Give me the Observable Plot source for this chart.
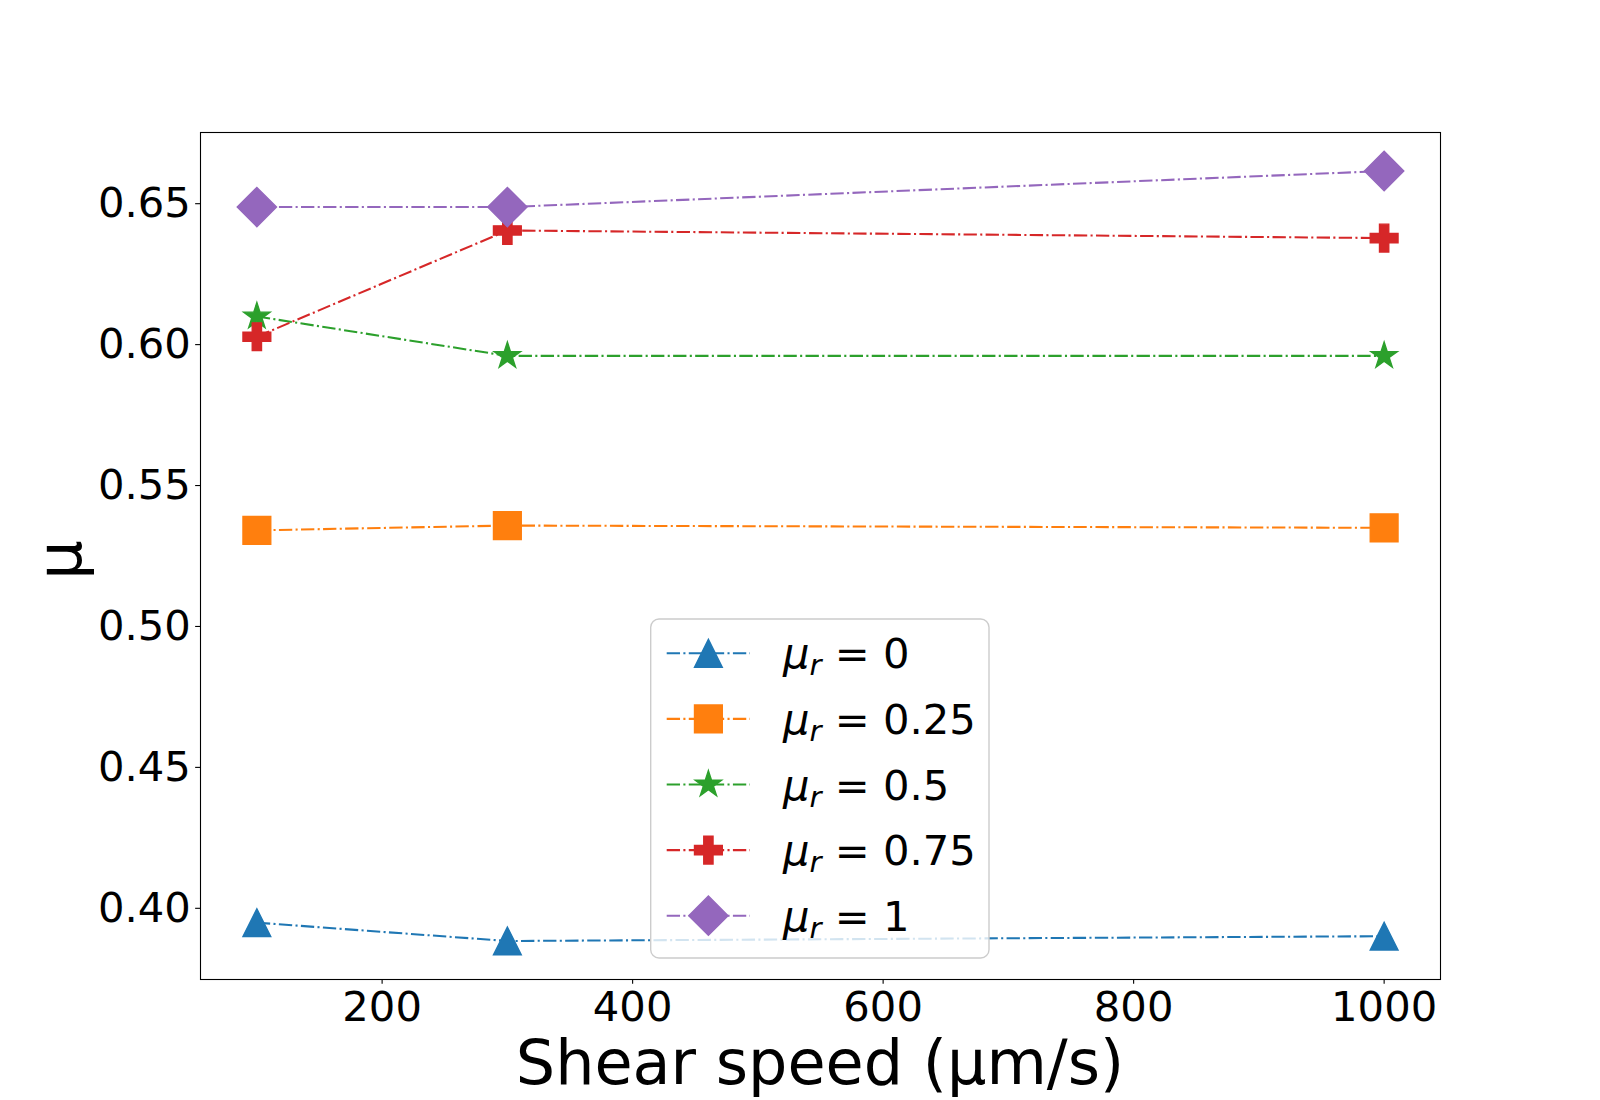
<!DOCTYPE html>
<html><head><meta charset="utf-8">
<script src="https://cdn.jsdelivr.net/npm/d3@7"></script>
<script src="https://cdn.jsdelivr.net/npm/@observablehq/plot@0.6"></script>
<style>body{margin:0;background:#fff}#chart{width:1600px;height:1100px}</style>
</head><body><div id="chart"></div>
<script>
// ---- data ----
const speeds = [100, 300, 1000];
const seriesLabels = ["0", "0.25", "0.5", "0.75", "1"];
const mu_r0   = [0.3949, 0.3884, 0.3901];
const mu_r025 = [0.5341, 0.5358, 0.5350];
const mu_r05  = [0.6100, 0.5960, 0.5960];
const mu_r075 = [0.6028, 0.6405, 0.6378];
const mu_r1   = [0.6488, 0.6488, 0.6616];
const xTicks = [200, 400, 600, 800, 1000];
const yTicks = [0.40, 0.45, 0.50, 0.55, 0.60, 0.65];
const colors = ["#1f77b4", "#ff7f0e", "#2ca02c", "#d62728", "#9467bd"];

const seriesValues = [mu_r0, mu_r025, mu_r05, mu_r075, mu_r1];

// ---- matplotlib-like marker symbols (size = pi r^2, r = ms/2) ----
const half = s => Math.sqrt(s / Math.PI);
const symTriangle = {draw(c, s){const h=half(s); c.moveTo(0,-h); c.lineTo(h,h); c.lineTo(-h,h); c.closePath();}};
const symSquare = {draw(c, s){const h=half(s); c.moveTo(-h,-h); c.lineTo(h,-h); c.lineTo(h,h); c.lineTo(-h,h); c.closePath();}};
const symStar = {draw(c, s){const R=half(s), r=R*0.381966;
  for(let i=0;i<10;i++){const a=-Math.PI/2+i*Math.PI/5, rr=i%2?r:R; const x=rr*Math.cos(a), y=rr*Math.sin(a); i?c.lineTo(x,y):c.moveTo(x,y);} c.closePath();}};
const symPlus = {draw(c, s){const h=half(s), u=h/3;
  const v=[[-1,-3],[1,-3],[1,-1],[3,-1],[3,1],[1,1],[1,3],[-1,3],[-1,1],[-3,1],[-3,-1],[-1,-1]];
  v.forEach(([x,y],i)=>i?c.lineTo(x*u,y*u):c.moveTo(x*u,y*u)); c.closePath();}};
const symDiamond = {draw(c, s){const d=half(s)*Math.SQRT2; c.moveTo(0,-d); c.lineTo(d,0); c.lineTo(0,d); c.lineTo(-d,0); c.closePath();}};
const symbols = [symTriangle, symSquare, symStar, symPlus, symDiamond];

const ms = 27.8;          // marker size 20pt in px
const lw = 2.08;          // line width 1.5pt
const dash = [13.33, 3.33, 2.08, 3.33].join(",");

const allY = seriesValues.flat();
const [yMin, yMax] = d3.extent(allY);
const yPad = (yMax - yMin) * 0.05;
const [xMin, xMax] = d3.extent(speeds);
const xPad = (xMax - xMin) * 0.05;

const marks = [];
seriesValues.forEach((vals, i) => {
  const rows = speeds.map((sp, j) => ({speed: sp, mu: vals[j]}));
  marks.push(Plot.line(rows, {x: "speed", y: "mu", stroke: colors[i], strokeWidth: lw,
    strokeDasharray: dash, strokeLinecap: "butt", strokeLinejoin: "round"}));
  marks.push(Plot.dot(rows, {x: "speed", y: "mu", symbol: symbols[i], r: ms / 2,
    fill: colors[i], stroke: colors[i], strokeWidth: 1.39}));
});

const chart = Plot.plot({
  width: 1600, height: 1100,
  marginLeft: 200, marginRight: 160, marginTop: 132, marginBottom: 121,
  style: {fontFamily: "'DejaVu Sans'", fontSize: "41.7px", color: "black", background: "white"},
  x: {domain: [xMin - xPad, xMax + xPad]},
  y: {domain: [yMin - yPad, yMax + yPad]},
  marks: [
    ...marks,
    Plot.frame({stroke: "black", strokeWidth: 1.1}),
    Plot.axisX({ticks: xTicks, tickFormat: "d", tickSize: 4.86, tickPadding: 7, fontSize: 41.7, strokeWidth: 1.1, label: null}),
    Plot.axisY({ticks: yTicks, tickFormat: ".2f", tickSize: 4.86, tickPadding: 4.86, fontSize: 41.7, strokeWidth: 1.1, label: null})
  ]
});
document.getElementById("chart").appendChild(chart);

const svg = d3.select(chart);
// axis labels
svg.append("text").attr("x", 820).attr("y", 1084).attr("text-anchor", "middle")
  .attr("font-size", 62).attr("fill", "black").attr("font-family", "'DejaVu Sans'")
  .text("Shear speed (μm/s)");
svg.append("text").attr("transform", "translate(81,560) rotate(-90)").attr("text-anchor", "middle")
  .attr("font-size", 62).attr("fill", "black").attr("font-family", "'DejaVu Sans'")
  .text("μ");

// legend (lower center, drawn above the data like matplotlib)
const lg = svg.append("g").attr("font-family", "'DejaVu Sans'").attr("text-anchor", "start");
lg.append("rect").attr("x", 650.7).attr("y", 619).attr("width", 338.3).attr("height", 339)
  .attr("rx", 8.3).attr("fill", "white").attr("fill-opacity", 0.8)
  .attr("stroke", "#cccccc").attr("stroke-width", 1.39);
seriesLabels.forEach((lab, i) => {
  const cy = 653.3 + i * 65.6;
  lg.append("line").attr("x1", 666.7).attr("x2", 750).attr("y1", cy).attr("y2", cy)
    .attr("stroke", colors[i]).attr("stroke-width", lw).attr("stroke-dasharray", dash);
  lg.append("path").attr("transform", `translate(708.4,${cy})`)
    .attr("d", d3.symbol(symbols[i], Math.PI * (ms / 2) ** 2)())
    .attr("fill", colors[i]).attr("stroke", colors[i]).attr("stroke-width", 1.39);
  const t = lg.append("text").attr("x", 783).attr("y", cy + 15).attr("font-size", 41.7)
    .attr("fill", "black").attr("text-anchor", "start");
  t.append("tspan").attr("font-style", "italic").text("μ");
  t.append("tspan").attr("font-style", "italic").attr("font-size", 29.2).attr("dy", 7).text("r");
  t.append("tspan").attr("dy", -7).text(" = " + lab);
});
</script>
</body></html>
